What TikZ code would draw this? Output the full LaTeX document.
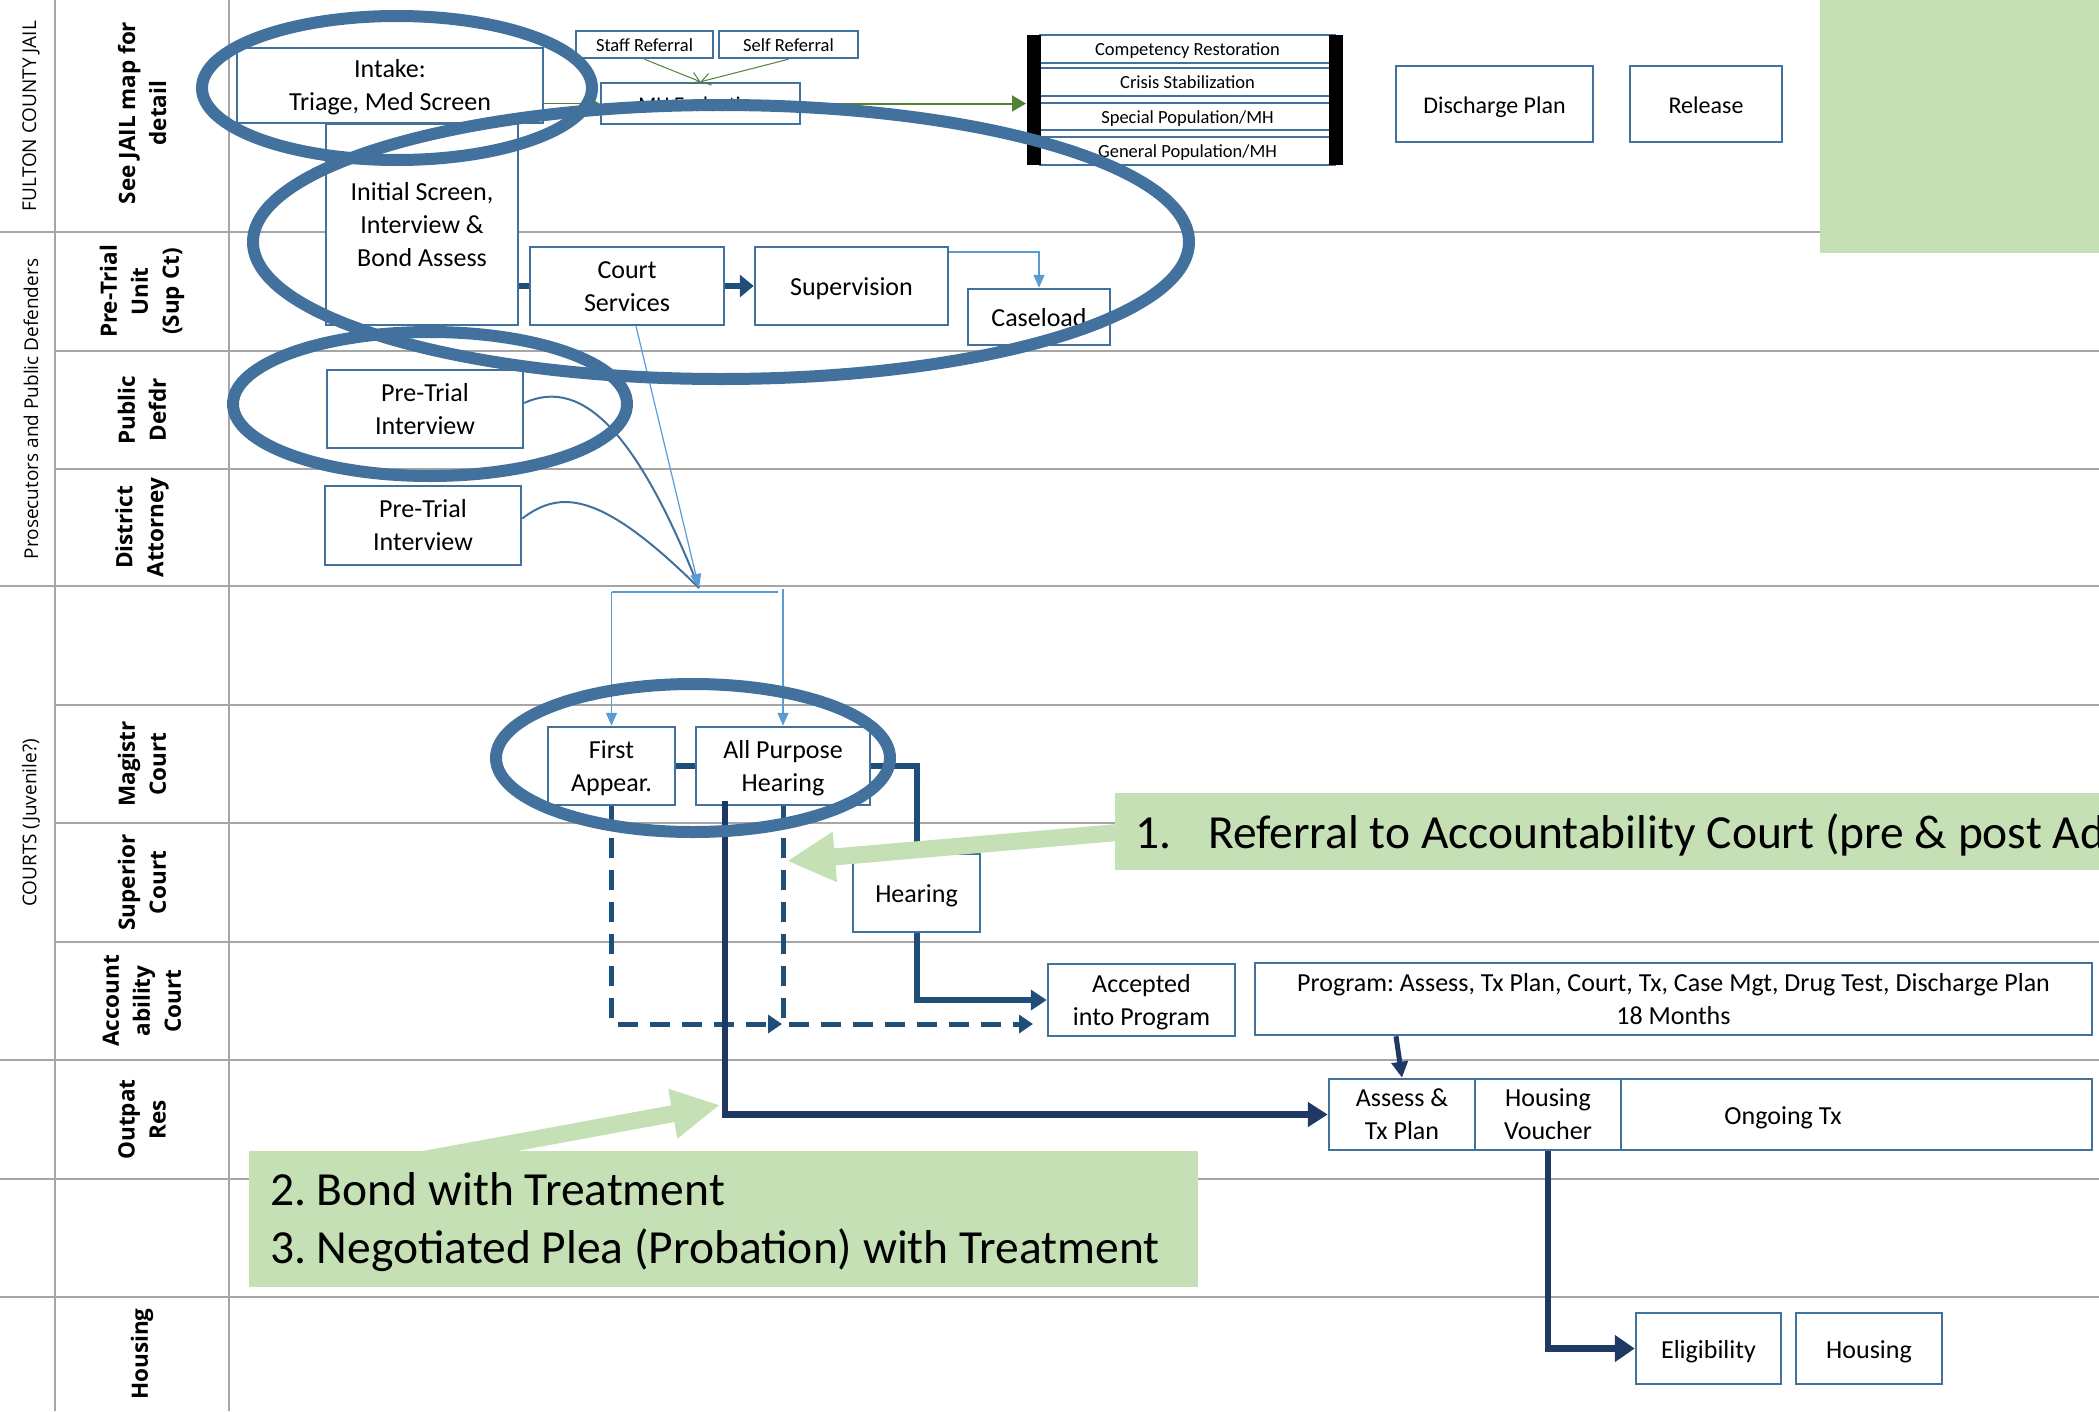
\documentclass[tikz,border=0pt]{standalone}
\usepackage{fontspec}
\setmainfont{Carlito}
\newfontfamily\lanefont{Open Sans}
\usetikzlibrary{arrows.meta,calc}
\frenchspacing
\newcommand{\mlines}[1]{\raisebox{-2pt}[\height][\depth]{\begin{tabular}{@{}c@{}}#1\end{tabular}}}
\definecolor{boxblue}{HTML}{41719C}
\definecolor{ellblue}{HTML}{41719C}
\definecolor{lightc}{HTML}{5B9BD5}
\definecolor{darkc}{HTML}{1F4E79}
\definecolor{navyc}{HTML}{203864}
\definecolor{greenc}{HTML}{548235}
\definecolor{calloutgreen}{HTML}{C5E0B4}
\definecolor{lanegray}{HTML}{A6A6A6}
\tikzset{
  lane/.style={draw=lanegray, line width=2.6pt},
  boxshape/.style={draw=boxblue, line width=2.5pt, fill=white, inner sep=0pt,
    font=\fontsize{26}{33}\selectfont},
  box/.style={boxshape,
    execute at begin node={\rule{0pt}{0.95em}},
    execute at end node={\rule[-0.2em]{0pt}{0.2em}}},
  mbox/.style={boxshape},
  smallbox/.style={box, font=\fontsize{18.5}{22}\selectfont},
  lanelbl/.style={rotate=90, align=center, inner sep=0pt, font=\lanefont\bfseries\fontsize{22.5}{31}\selectfont},
  grouplbl/.style={rotate=90, inner sep=0pt, font=\lanefont\fontsize{19}{23}\selectfont},
  ell/.style={draw=ellblue, line width=12pt},
  thickc/.style={draw=darkc, line width=6pt},
  navyline/.style={draw=navyc, line width=6.5pt},
  lightline/.style={draw=lightc, line width=1.5pt},
  lighttip/.style={-{Triangle[length=13pt,width=11pt]}, lightline},
  curveline/.style={draw=boxblue, line width=2pt},
  dashline/.style={draw=darkc, line width=5pt, dash pattern=on 20pt off 12pt},
  greenthin/.style={draw=greenc, line width=1pt, -{Straight Barb[length=9pt,width=12pt]}},
  greenarrow/.style={draw=greenc, line width=2pt, -{Triangle[length=14pt,width=16pt]}},
  blockarrow/.style={draw=calloutgreen, line width=17pt, -{Triangle[length=48pt,width=47pt]}},
  callout/.style={fill=calloutgreen, inner sep=0pt, anchor=north west},
  callouttext/.style={inner sep=0pt, anchor=base west, font=\fontsize{47.5}{58}\selectfont}
}
\begin{document}
\begin{tikzpicture}[x=1pt,y=-1pt]
\useasboundingbox (0,0) rectangle (2099,1411);
\clip (0,0) rectangle (2099,1411);

% lane grid
\draw[lane] (55,0) -- (55,1411);
\draw[lane] (229,0) -- (229,1411);
\draw[lane] (0,232) -- (2099,232);
\draw[lane] (55,351) -- (2099,351);
\draw[lane] (55,469) -- (2099,469);
\draw[lane] (0,586) -- (2099,586);
\draw[lane] (55,705) -- (2099,705);
\draw[lane] (55,823) -- (2099,823);
\draw[lane] (55,942) -- (2099,942);
\draw[lane] (0,1060) -- (2099,1060);
\draw[lane] (0,1179) -- (2099,1179);
\draw[lane] (0,1297) -- (2099,1297);

% group labels
\node[grouplbl] (gjail) at (31,116) {FULTON COUNTY JAIL};
\node[grouplbl] (gpros) at (31,409) {Prosecutors and Public Defenders};
\node[grouplbl] (gcourt) at (31,823) {COURTS (Juvenile?)};

% lane labels
\node[lanelbl] (ljail) at (142,113) {See JAIL map for\\detail};
\node[lanelbl] (lptu) at (142,291.5) {Pre-Trial\\Unit\\(Sup Ct)};
\node[lanelbl] (lpd) at (142,410) {Public\\Defdr};
\node[lanelbl] (lda) at (142,527.5) {District\\Attorney};
\node[lanelbl] (lmag) at (142,764) {Magistr\\Court};
\node[lanelbl] (lsup) at (142,882.5) {Superior\\Court};
\node[lanelbl] (lacc) at (142,1001) {Account\\ability\\Court};
\node[lanelbl] (lout) at (142,1119.5) {Outpat\\Res};
\node[lanelbl] (lhou) at (142,1354) {Housing};

% top right green panel
\node[callout, minimum width=290pt, minimum height=253pt] (greentr) at (1820,0) {};

% jail boxes
\node[mbox, minimum width=192pt, minimum height=201pt] (init) at (422,224.5) {\mlines{Initial Screen,\\Interview \&\\Bond Assess}};
\node[mbox, minimum width=306pt, minimum height=75pt] (intake) at (390,85.5) {\mlines{Intake:\\Triage, Med Screen}};
\node[smallbox, minimum width=137pt, minimum height=27pt] (staff) at (644.5,44.5) {Staff Referral};
\node[smallbox, minimum width=139pt, minimum height=27pt] (self) at (788.5,44.5) {Self Referral};
\node[box, font=\fontsize{21}{25}\selectfont, minimum width=199pt, minimum height=41pt] (mh) at (700.5,103.5) {MH Evaluation};
\node[smallbox, minimum width=295pt, minimum height=28pt] (c1) at (1187.5,49) {Competency Restoration};
\node[smallbox, minimum width=295pt, minimum height=28pt] (c2) at (1187.5,82) {Crisis Stabilization};
\node[smallbox, minimum width=295pt, minimum height=27pt] (c3) at (1187.5,116.5) {Special Population/MH};
\node[smallbox, minimum width=295pt, minimum height=28pt] (c4) at (1187.5,151) {General Population/MH};
\fill[black] (1027,35) rectangle (1041,165);
\fill[black] (1329,35) rectangle (1343,165);
\coordinate (stackin) at (1026,103.5);
\node[box, font=\fontsize{24}{29}\selectfont, minimum width=197pt, minimum height=76pt] (dis) at (1494.5,104) {Discharge Plan};
\node[box, font=\fontsize{24}{29}\selectfont, minimum width=152pt, minimum height=76pt] (rel) at (1706,104) {Release};

% pre-trial boxes
\node[mbox, minimum width=194pt, minimum height=78pt] (court) at (627,286) {\mlines{Court\\Services}};
\node[box, minimum width=193pt, minimum height=78pt] (sup) at (851.5,286) {Supervision};
\node[box, minimum width=142pt, minimum height=56pt] (case) at (1039,317) {Caseload};
\node[mbox, minimum width=196pt, minimum height=78pt] (pd) at (425,409) {\mlines{Pre-Trial\\Interview}};
\node[mbox, minimum width=196pt, minimum height=79pt] (da) at (423,525.5) {\mlines{Pre-Trial\\Interview}};

% court boxes
\node[mbox, minimum width=127pt, minimum height=78pt] (first) at (611.5,766) {\mlines{First\\Appear.}};
\node[mbox, minimum width=174pt, minimum height=78pt] (aph) at (783,766) {\mlines{All Purpose\\Hearing}};
\node[box, minimum width=127pt, minimum height=78pt] (hear) at (916.5,893) {Hearing};
\node[mbox, minimum width=187pt, minimum height=72pt] (acc) at (1141.5,1000) {\mlines{Accepted\\into Program}};
\node[mbox, minimum width=837pt, minimum height=72pt] (prog) at (1673.5,999) {\mlines{Program: Assess, Tx Plan, Court, Tx, Case Mgt, Drug Test, Discharge Plan\\18 Months}};
\node[mbox, minimum width=146pt, minimum height=71pt] (assess) at (1402,1114.5) {\mlines{Assess \&\\Tx Plan}};
\node[mbox, minimum width=146pt, minimum height=71pt] (hv) at (1548,1114.5) {\mlines{Housing\\Voucher}};
\node[box, minimum width=471pt, minimum height=71pt] (ong) at (1856.5,1114.5) {Ongoing Tx\hspace*{147pt}};
\node[box, minimum width=145pt, minimum height=71pt] (elig) at (1708.5,1348.5) {Eligibility};
\node[box, minimum width=146pt, minimum height=71pt] (hous) at (1869,1348.5) {Housing};

% jail connectors
\draw[greenthin] (staff.south) -- (mh.north);
\draw[greenthin] (self.south) -- (mh.north);
\draw[greenc, line width=1.5pt, -{Triangle[length=10pt,width=10pt]}] (intake.east |- mh.west) -- (mh.west);
\draw[greenarrow] (mh.east) -- (stackin);

% pre-trial connectors
\draw[thickc] (init.east |- court.west) -- (court.west);
\draw[thickc, -{Triangle[length=14pt,width=22pt]}] (court.east) -- (sup.west);
\draw[lighttip] ($(sup.north east)+(0,6)$) -| (case.north);
\coordinate (jn) at (699,588);
\draw[curveline] ($(pd.east)+(0,-6)$) .. controls (585,375) and (640,440) .. (jn);
\draw[curveline] ($(da.east)+(0,-7)$) .. controls (560,490) and (600,490) .. (jn);
\draw[lightc, line width=1.2pt, -{Triangle[length=14pt,width=11pt]}] ($(court.south)+(9,0)$) -- (jn);

% bracket to courts
\coordinate (bl) at (611.5,592);
\coordinate (bm) at (778,592);
\coordinate (brr) at (783,589);
\draw[lightline] (bl) -- (bm);
\draw[lighttip] (bl) -- (first.north);
\draw[lighttip] (brr) -- (aph.north);

% court connectors
\coordinate (d1) at (782,1024);
\coordinate (d2) at (1033,1024);
\draw[dashline, -{Triangle[length=14pt,width=18pt]}] (first.south) |- (d1);
\draw[dashline, -{Triangle[length=14pt,width=18pt]}] (aph.south) |- (d2);
\draw[thickc] (first.east) -- (aph.west);
\draw[thickc, -{Triangle[length=8pt,width=14pt]}] (aph.east) -| (hear.north);
\draw[thickc, -{Triangle[length=16pt,width=20pt]}] (hear.south) |- (acc.west);
\draw[navyline, -{Triangle[length=20pt,width=24pt]}] ($(aph.south)+(-58,-5)$) |- (assess.west);
\draw[navyc, line width=5pt, -{Triangle[length=16pt,width=16pt]}] ($(prog.south)+(-277.5,0)$) -- (assess.north);
\draw[navyline, -{Triangle[length=20pt,width=26pt]}] (hv.south) |- (elig.west);

% callouts with block arrows
\coordinate (g1s) at (1135,831);
\coordinate (g1t) at (787,861);
\draw[blockarrow] (g1s) -- (g1t);
\coordinate (g2s) at (410,1162);
\coordinate (g2t) at (720,1105);
\draw[blockarrow] (g2s) -- (g2t);
\node[callout, minimum width=1000pt, minimum height=77pt] (call1) at (1115,793) {};
\node[callouttext] (call1t) at (1135,848) {\makebox[73pt][l]{1.}Referral to Accountability Court (pre \& post Adjudication)};
\node[callout, minimum width=949pt, minimum height=136pt] (call2) at (249,1151) {};
\node[callouttext] (call2a) at (270,1205) {2. Bond with Treatment};
\node[callouttext] (call2b) at (270,1263) {3. Negotiated Plea (Probation) with Treatment};

% highlight ellipses
\draw[ell] (397,88) ellipse [x radius=195pt, y radius=72pt];
\draw[ell] (721,242) ellipse [x radius=468pt, y radius=137pt];
\draw[ell] (430,404) ellipse [x radius=197pt, y radius=72pt];
\draw[ell] (693,758) ellipse [x radius=197pt, y radius=74pt];
\end{tikzpicture}
\end{document}
